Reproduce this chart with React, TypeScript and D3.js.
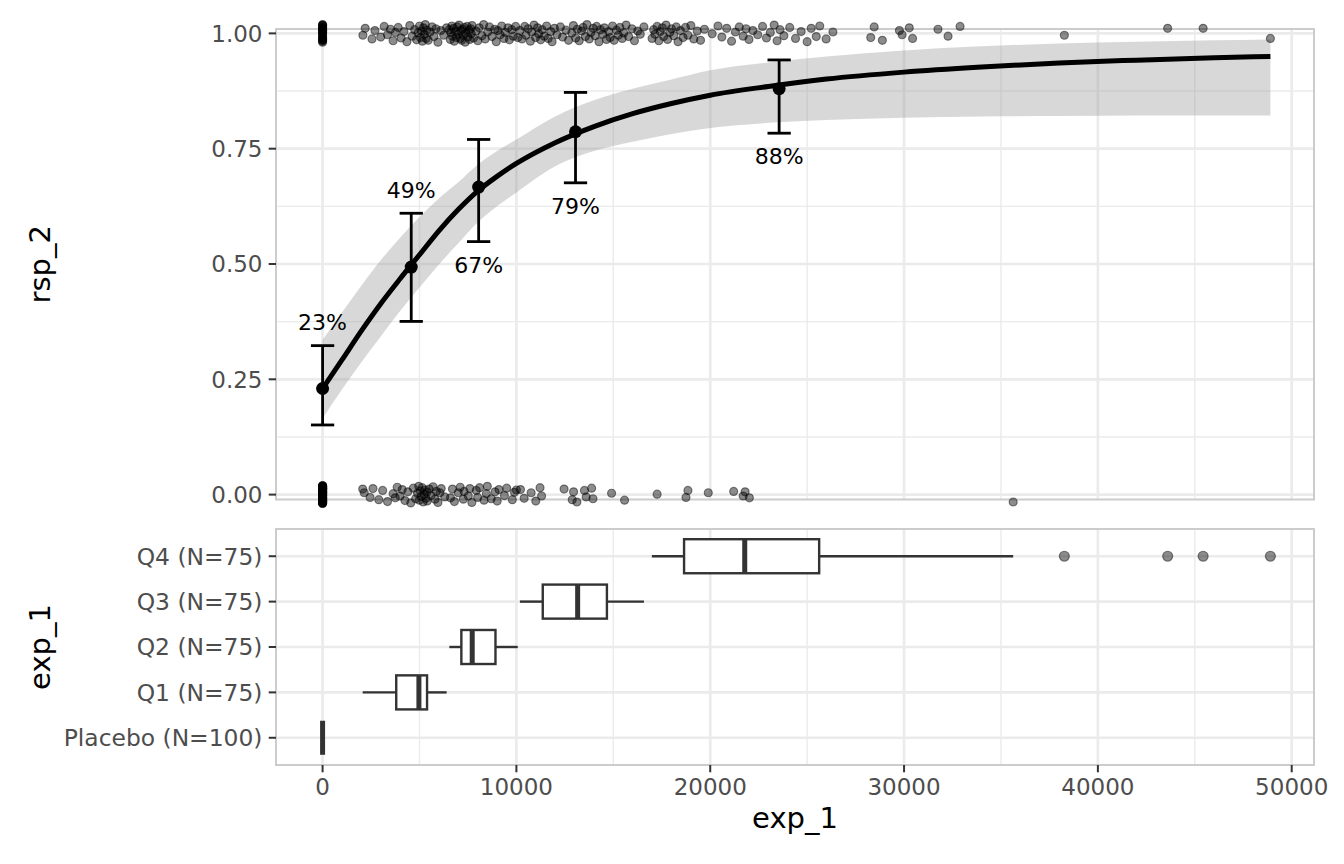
import * as d3 from 'd3';
import React from 'react';

const W = 1344;
const H = 864;

// groups (bottom to top in the lower panel)
const groups = ['Placebo', 'Q1', 'Q2', 'Q3', 'Q4'];
const groupN = [100, 75, 75, 75, 75];
const respN = [23, 37, 50, 59, 66];
const meanExp = [0, 4574, 8052, 13050, 23555];
const ciLow = [0.151, 0.3755, 0.5485, 0.676, 0.7836];
const ciHigh = [0.323, 0.61, 0.77, 0.872, 0.9424];
const labelSide = [1, 1, -1, -1, -1];

// fitted curve + confidence band
const fitX = [0, 1000, 2000, 3000, 4000, 5000, 6000, 7000, 8000, 9000, 10000, 12000, 14000, 16000, 18000, 20000, 23000, 26000, 30000, 34000, 38000, 42000, 46000, 48900];
const fitY = [0.23, 0.292, 0.355, 0.414, 0.468, 0.52, 0.572, 0.618, 0.658, 0.69, 0.718, 0.763, 0.798, 0.826, 0.848, 0.866, 0.885, 0.901, 0.916, 0.927, 0.936, 0.942, 0.947, 0.95];
const fitLo = [0.165, 0.228, 0.287, 0.343, 0.398, 0.449, 0.499, 0.545, 0.59, 0.625, 0.655, 0.712, 0.745, 0.765, 0.782, 0.795, 0.806, 0.812, 0.817, 0.82, 0.821, 0.822, 0.822, 0.822];
const fitHi = [0.335, 0.395, 0.453, 0.508, 0.557, 0.602, 0.642, 0.677, 0.715, 0.745, 0.77, 0.82, 0.855, 0.88, 0.9, 0.92, 0.937, 0.95, 0.963, 0.972, 0.978, 0.982, 0.985, 0.987];

// boxplot stats for exposure by group
const boxLow = [0, 2070, 6540, 10180, 16990];
const boxQ1 = [0, 3800, 7160, 11360, 18650];
const boxMed = [0, 4970, 7720, 13160, 21780];
const boxQ3 = [0, 5390, 8920, 14670, 25620];
const boxHigh = [0, 6400, 10070, 16580, 35630];
const q4Outliers = [38270, 43600, 45430, 48900];

// jittered raw observations: [exposure, vertical jitter]
const placeboTopJit = [0.018, -0.015, 0.007, -0.004, 0.012, -0.019, 0.002, 0.015, -0.009, 0.01, -0.012, 0.005, -0.001, 0.017, -0.017, 0.008, -0.006, 0.013, -0.011, 0.003, 0.019, -0.014, 0.006];
const placeboBotJit = [
  0.016, -0.012, 0.004, -0.018, 0.009, -0.003, 0.013, -0.008, 0.001, 0.019, -0.015,
  0.006, -0.011, 0.014, -0.002, 0.011, -0.017, 0.003, 0.018, -0.006, 0.008, -0.013,
  0.002, 0.015, -0.009, 0.012, -0.019, 0.005, -0.004, 0.017, -0.014, 0.01, -0.001,
  0.013, -0.016, 0.007, -0.007, 0.019, -0.011, 0.001, 0.014, -0.018, 0.004, -0.005,
  0.011, -0.013, 0.016, -0.002, 0.009, -0.015, 0.003, 0.018, -0.008, 0.006, -0.012,
  0.015, -0.019, 0.002, -0.006, 0.012, -0.01, 0.008, 0.017, -0.016, 0.005, -0.003,
  0.01, -0.014, 0.013, -0.001, 0.019, -0.009, 0.007, -0.017, 0.004, 0.014, -0.007,
];

const q1Top = [
  [2080, -0.004], [2200, 0.011], [2550, -0.012], [2700, 0.006], [3000, -0.008], [3180, 0.015], [3350, -0.003], [3500, 0.009], [3640, -0.016], [3760, 0.002],
  [3900, 0.013], [4050, -0.01], [4200, 0.004], [4350, -0.018], [4500, 0.017], [4620, -0.006], [4750, 0.008], [4850, -0.014], [4930, 0.001],
  [5000, 0.016], [5050, -0.009], [5100, 0.005], [5150, -0.017], [5200, 0.012], [5250, -0.002], [5300, 0.019], [5340, -0.011], [5380, 0.007],
  [5450, -0.015], [5550, 0.003], [5650, 0.014], [5750, -0.007], [5850, 0.01], [5950, -0.019], [6100, 0.006], [6250, -0.004], [6400, 0.012],
];
const q1Bot = [
  [2070, 0.012], [2150, 0.004], [2450, -0.006], [2600, 0.013], [2900, -0.011], [3100, 0.009], [3350, -0.015], [3640, 0.002], [3750, -0.007],
  [3850, 0.016], [4000, -0.003], [4110, 0.011], [4250, -0.013], [4400, 0.006], [4550, -0.018], [4680, 0.014], [4800, -0.009], [4900, 0.003], [4960, 0.018],
  [4990, -0.012], [5040, 0.008], [5090, -0.004], [5140, 0.015], [5190, -0.016], [5240, 0.001], [5290, 0.01], [5340, -0.008], [5385, 0.005],
  [5400, -0.014], [5500, 0.012], [5600, -0.002], [5700, 0.017], [5800, -0.01], [5870, 0.007], [5950, -0.017], [6050, 0.004], [6120, 0.013], [6300, -0.005],
];
const q2Top = [
  [6540, 0.008], [6590, -0.013], [6615, 0.002], [6670, 0.016], [6700, -0.006], [6760, 0.011], [6790, -0.017], [6860, 0.004], [6910, -0.009], [6940, 0.014], [7010, -0.002], [7040, 0.018], [7110, -0.011], [7140, 0.006],
  [7175, -0.015], [7230, 0.009], [7255, -0.004], [7310, 0.013], [7360, -0.019], [7390, 0.001], [7460, 0.015], [7490, -0.008], [7560, 0.007], [7590, -0.013], [7650, 0.01], [7670, -0.001], [7710, 0.017],
  [7790, -0.01], [7920, 0.005], [8010, -0.016], [8080, 0.012], [8220, -0.005], [8310, 0.019], [8390, -0.012], [8520, 0.003], [8610, 0.014], [8740, -0.007], [8880, 0.009],
  [8960, -0.018], [9040, 0.006], [9160, -0.003], [9240, 0.016], [9360, -0.011], [9430, 0.002], [9570, 0.012], [9640, -0.014], [9760, 0.008], [9840, -0.006], [9960, 0.015], [10070, -0.009],
];
const q2Bot = [
  [6600, -0.007], [6700, 0.012], [6800, -0.015], [7000, 0.004], [7100, 0.016], [7260, -0.01], [7300, 0.007], [7520, -0.003], [7600, 0.013], [7700, -0.017],
  [7930, 0.009], [8000, -0.006], [8100, 0.015], [8330, -0.012], [8450, 0.002], [8500, 0.018], [8700, -0.009], [8900, 0.006],
  [9010, -0.014], [9100, 0.011], [9380, -0.002], [9500, 0.014], [9790, -0.011], [9900, 0.005], [10000, 0.01],
];
const q3Top = [
  [10180, 0.006], [10290, -0.012], [10430, 0.015], [10490, -0.004], [10610, 0.01], [10720, -0.017], [10790, 0.003], [10910, 0.018], [10990, -0.009], [11090, 0.012], [11150, -0.001], [11250, -0.014], [11330, 0.008],
  [11440, -0.006], [11560, 0.016], [11640, -0.011], [11770, 0.004], [11840, -0.018], [11960, 0.011], [12090, -0.003], [12270, 0.014], [12380, -0.008], [12560, 0.007], [12690, -0.015], [12860, 0.001], [12940, 0.017], [13060, -0.01], [13140, 0.009],
  [13240, -0.016], [13360, 0.005], [13440, 0.013], [13560, -0.007], [13640, 0.019], [13760, -0.012], [13840, 0.002], [13960, 0.011], [14060, -0.005], [14140, 0.015], [14260, -0.018], [14340, 0.008], [14460, -0.002], [14540, 0.012], [14650, -0.013],
  [14760, 0.004], [14840, -0.009], [14960, 0.016], [15040, -0.015], [15160, 0.007], [15260, -0.004], [15340, 0.013], [15460, -0.011], [15540, 0.001], [15660, 0.018], [15790, -0.007], [15960, 0.01], [16090, -0.016], [16260, 0.005], [16390, -0.002], [16580, 0.014],
];
const q3Bot = [
  [10210, 0.011], [10400, -0.008], [10760, 0.004], [11000, -0.014], [11220, 0.015], [11300, -0.003], [12460, 0.012], [12880, -0.011],
  [12950, 0.006], [13120, -0.016], [13510, 0.009], [13600, -0.005], [13880, 0.014], [13950, -0.009], [14910, 0.003], [15580, -0.012],
];
const q4Top = [
  [17000, -0.011], [17080, 0.008], [17150, -0.002], [17260, 0.015], [17350, -0.016], [17420, 0.004], [17530, 0.012], [17600, -0.007], [17720, 0.018], [17800, -0.013], [17910, 0.002], [18000, 0.01], [18120, -0.005], [18250, 0.014], [18340, -0.018], [18460, 0.006], [18600, -0.009],
  [18720, 0.013], [18850, -0.004], [19000, 0.017], [19150, -0.012], [19330, 0.005], [19500, -0.015], [19700, 0.009], [20100, -0.001], [20400, 0.016], [20600, -0.008], [20850, 0.011], [21100, -0.017], [21300, 0.003], [21500, 0.014], [21700, -0.006],
  [21850, 0.01], [22000, -0.013], [22200, 0.006], [22450, -0.003], [22700, 0.015], [22900, -0.01], [23100, 0.002], [23300, 0.018], [23450, -0.016], [23600, 0.008], [23800, -0.005], [24100, 0.013], [24400, -0.011], [24690, 0.004], [25000, -0.018], [25210, 0.011], [25470, -0.007],
  [25650, 0.016], [25980, -0.012], [26330, 0.003], [28280, -0.009], [28460, 0.014], [28880, -0.015], [29760, 0.006], [29900, -0.003], [30270, 0.012], [30440, -0.011], [31750, 0.009], [32270, -0.006], [32890, 0.015],
  [38270, -0.004], [43600, 0.011], [45430, 0.011], [48900, -0.011],
];
const q4Bot = [
  [17260, 0.001], [18750, -0.006], [18850, 0.009], [19900, 0.004], [21210, 0.007], [21700, -0.003], [21800, 0.006], [22020, -0.007], [35630, -0.016],
];

const xTicks = [0, 10000, 20000, 30000, 40000, 50000];
const xMinor = [5000, 15000, 25000, 35000, 45000];
const yTicks = [0, 0.25, 0.5, 0.75, 1];
const yMinor = [0.125, 0.375, 0.625, 0.875];

const FONT = 'DejaVu Sans, Verdana, sans-serif';
const GRID = '#EBEBEB';
const BORDER = '#CCCCCC';
const TICK = '#333333';
const AXIS_TXT = '#4D4D4D';

export default function App() {
  const x = d3.scaleLinear().domain([-2403, 51150]).range([276, 1314]);
  const yTop = d3.scaleLinear().domain([-0.0106, 1.0095]).range([499.5, 29]);
  const yBot = d3.scalePoint<string>().domain(groups).range([765, 529]).padding(0.6);
  const boxH = yBot.step() * 0.75;
  const capHalf = 600;

  const [xl, xr] = x.range();
  const [tb, tt] = yTop.range();
  const [bb, bt] = yBot.range();

  const band = d3
    .area<number>()
    .x((d) => x(d))
    .y0((_, i) => yTop(fitLo[i]))
    .y1((_, i) => yTop(fitHi[i]))
    .curve(d3.curveMonotoneX)(fitX);

  const line = d3
    .line<number>()
    .x((d) => x(d))
    .y((_, i) => yTop(fitY[i]))
    .curve(d3.curveMonotoneX)(fitX);

  const raw: { x: number; y: number }[] = [];
  placeboTopJit.forEach((j) => raw.push({ x: 0, y: 1 + j }));
  placeboBotJit.forEach((j) => raw.push({ x: 0, y: j }));
  [q1Top, q2Top, q3Top, q4Top].forEach((g) => g.forEach(([v, j]) => raw.push({ x: v, y: 1 + j })));
  [q1Bot, q2Bot, q3Bot, q4Bot].forEach((g) => g.forEach(([v, j]) => raw.push({ x: v, y: j })));

  const pct = d3.format('.0%');

  return (
    <svg width={W} height={H} style={{ position: 'absolute', left: 0, top: 0, background: '#fff' }} fontFamily={FONT}>
      <rect x={0} y={0} width={W} height={H} fill="#fff" />

      {/* ---- top panel ---- */}
      <g>
        {xMinor.map((v) => (
          <line key={'tvm' + v} x1={x(v)} x2={x(v)} y1={tt} y2={tb} stroke={GRID} strokeWidth={1.4} />
        ))}
        {yMinor.map((v) => (
          <line key={'thm' + v} x1={xl} x2={xr} y1={yTop(v)} y2={yTop(v)} stroke={GRID} strokeWidth={1.4} />
        ))}
        {xTicks.map((v) => (
          <line key={'tv' + v} x1={x(v)} x2={x(v)} y1={tt} y2={tb} stroke={GRID} strokeWidth={2.7} />
        ))}
        {yTicks.map((v) => (
          <line key={'th' + v} x1={xl} x2={xr} y1={yTop(v)} y2={yTop(v)} stroke={GRID} strokeWidth={2.7} />
        ))}
        <rect x={xl} y={tt} width={xr - xl} height={tb - tt} fill="none" stroke={BORDER} strokeWidth={2} />

        <path d={band ?? ''} fill="#999999" fillOpacity={0.38} />

        {raw.map((p, i) => (
          <circle key={'r' + i} cx={x(p.x)} cy={yTop(p.y)} r={4} fill="#000" fillOpacity={0.45} stroke="#000" strokeOpacity={0.45} strokeWidth={1.2} />
        ))}

        <path d={line ?? ''} fill="none" stroke="#000" strokeWidth={5} />

        {groups.map((g, i) => {
          const cx = x(meanExp[i]);
          const p = respN[i] / groupN[i];
          const ly = labelSide[i] > 0 ? ciHigh[i] + 0.05 : ciLow[i] - 0.05;
          return (
            <g key={'s' + g}>
              <line x1={cx} x2={cx} y1={yTop(ciLow[i])} y2={yTop(ciHigh[i])} stroke="#000" strokeWidth={2.8} />
              <line x1={x(meanExp[i] - capHalf)} x2={x(meanExp[i] + capHalf)} y1={yTop(ciLow[i])} y2={yTop(ciLow[i])} stroke="#000" strokeWidth={2.8} />
              <line x1={x(meanExp[i] - capHalf)} x2={x(meanExp[i] + capHalf)} y1={yTop(ciHigh[i])} y2={yTop(ciHigh[i])} stroke="#000" strokeWidth={2.8} />
              <circle cx={cx} cy={yTop(p)} r={6.5} fill="#000" />
              <text x={cx} y={yTop(ly)} dy="0.36em" textAnchor="middle" fontSize={22} fill="#000">
                {pct(p)}
              </text>
            </g>
          );
        })}

        {yTicks.map((v) => (
          <g key={'ty' + v}>
            <line x1={xl - 7.3} x2={xl} y1={yTop(v)} y2={yTop(v)} stroke={TICK} strokeWidth={2} />
            <text x={xl - 13.5} y={yTop(v)} dy="0.36em" textAnchor="end" fontSize={23} fill={AXIS_TXT}>
              {d3.format('.2f')(v)}
            </text>
          </g>
        ))}
        <text transform={`translate(50,${(tt + tb) / 2}) rotate(-90)`} textAnchor="middle" fontSize={29} fill="#000">
          rsp_2
        </text>
      </g>

      {/* ---- bottom panel ---- */}
      <g>
        {xMinor.map((v) => (
          <line key={'bvm' + v} x1={x(v)} x2={x(v)} y1={bt} y2={bb} stroke={GRID} strokeWidth={1.4} />
        ))}
        {xTicks.map((v) => (
          <line key={'bv' + v} x1={x(v)} x2={x(v)} y1={bt} y2={bb} stroke={GRID} strokeWidth={2.7} />
        ))}
        {groups.map((g) => (
          <line key={'bh' + g} x1={xl} x2={xr} y1={yBot(g)} y2={yBot(g)} stroke={GRID} strokeWidth={2.7} />
        ))}
        <rect x={xl} y={bt} width={xr - xl} height={bb - bt} fill="none" stroke={BORDER} strokeWidth={2} />

        {groups.map((g, i) => {
          const cy = yBot(g) ?? 0;
          return (
            <g key={'b' + g} stroke="#333333" strokeWidth={2.4}>
              <line x1={x(boxLow[i])} x2={x(boxQ1[i])} y1={cy} y2={cy} />
              <line x1={x(boxQ3[i])} x2={x(boxHigh[i])} y1={cy} y2={cy} />
              <rect x={x(boxQ1[i])} y={cy - boxH / 2} width={x(boxQ3[i]) - x(boxQ1[i])} height={boxH} fill="#fff" />
              <line x1={x(boxMed[i])} x2={x(boxMed[i])} y1={cy - boxH / 2} y2={cy + boxH / 2} strokeWidth={5} />
            </g>
          );
        })}
        {q4Outliers.map((v) => (
          <circle key={'o' + v} cx={x(v)} cy={yBot('Q4')} r={5} fill="#000" fillOpacity={0.45} stroke="#000" strokeOpacity={0.45} strokeWidth={1.2} />
        ))}

        {groups.map((g, i) => (
          <g key={'by' + g}>
            <line x1={xl - 7.3} x2={xl} y1={yBot(g)} y2={yBot(g)} stroke={TICK} strokeWidth={2} />
            <text x={xl - 13.5} y={yBot(g)} dy="0.36em" textAnchor="end" fontSize={23.4} fill={AXIS_TXT}>
              {`${g} (N=${groupN[i]})`}
            </text>
          </g>
        ))}
        {xTicks.map((v) => (
          <g key={'bx' + v}>
            <line x1={x(v)} x2={x(v)} y1={bb} y2={bb + 7.3} stroke={TICK} strokeWidth={2} />
            <text x={x(v)} y={795} textAnchor="middle" fontSize={23} fill={AXIS_TXT}>
              {String(v)}
            </text>
          </g>
        ))}
        <text transform={`translate(50,${(bt + bb) / 2}) rotate(-90)`} textAnchor="middle" fontSize={29} fill="#000">
          exp_1
        </text>
        <text x={(xl + xr) / 2} y={828} textAnchor="middle" fontSize={29} fill="#000">
          exp_1
        </text>
      </g>
    </svg>
  );
}
